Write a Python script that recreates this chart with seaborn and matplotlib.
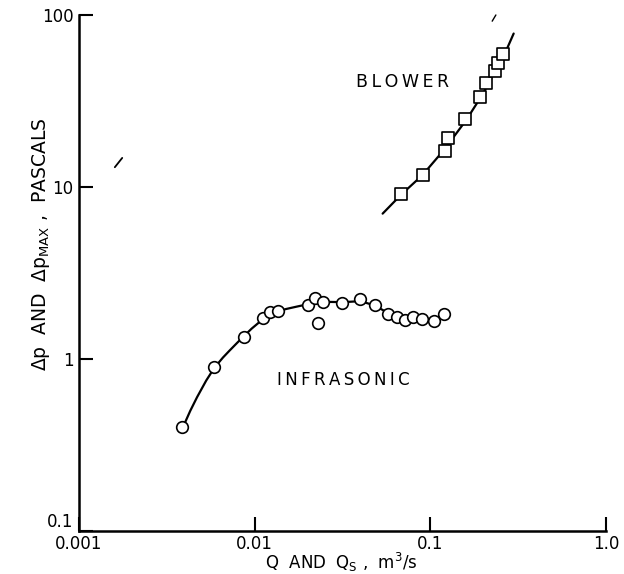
import matplotlib
matplotlib.use("Agg")
import matplotlib.pyplot as plt
import seaborn as sns
import pandas as pd

# Infrasonic data points (Q, m^3/s ; dp_max, Pa)
infra_q = [0.00388, 0.00587, 0.00871, 0.0111, 0.0122, 0.0135, 0.0200, 0.0220,
           0.0230, 0.0245, 0.0314, 0.0397, 0.0484, 0.0572, 0.0643, 0.0721,
           0.0800, 0.0898, 0.1054, 0.120]
infra_p = [0.404, 0.895, 1.35, 1.74, 1.87, 1.91, 2.06, 2.25,
           1.63, 2.15, 2.11, 2.22, 2.06, 1.82, 1.75, 1.69,
           1.76, 1.71, 1.66, 1.83]

# Infrasonic fitted curve
infra_curve_q = [0.0039, 0.0043, 0.0047, 0.0053, 0.0059, 0.0066, 0.0072, 0.0080,
                 0.0087, 0.0096, 0.0105, 0.0115, 0.0125, 0.0137, 0.015, 0.0175,
                 0.020, 0.025, 0.032, 0.040, 0.048, 0.057, 0.065, 0.075, 0.090,
                 0.105, 0.120]
infra_curve_p = [0.40, 0.50, 0.60, 0.75, 0.89, 1.02, 1.12, 1.25,
                 1.36, 1.50, 1.62, 1.73, 1.82, 1.89, 1.95, 2.02,
                 2.08, 2.15, 2.14, 2.17, 2.05, 1.86, 1.76, 1.72, 1.72,
                 1.70, 1.82]

# Blower data points (Qs, m^3/s ; dp, Pa)
blower_q = [0.0681, 0.0904, 0.1218, 0.1262, 0.1583, 0.192, 0.2077, 0.2337, 0.2441, 0.2606]
blower_p = [9.07, 11.7, 16.2, 19.2, 24.8, 33.2, 40.1, 47.3, 52.4, 59.3]

# Blower fitted curve
blower_curve_q = [0.0535, 0.068, 0.090, 0.120, 0.160, 0.200, 0.240, 0.270, 0.298]
blower_curve_p = [7.0, 9.0, 11.7, 16.5, 24.5, 35.0, 50.0, 62.0, 78.0]

x_ticks = [0.001, 0.01, 0.1, 1.0]
x_tick_labels = ["0.001", "0.01", "0.1", "1.0"]
y_ticks = [0.1, 1, 10, 100]
y_tick_labels = ["0.1", "1", "10", "100"]

df_inf = pd.DataFrame({"q": infra_q, "p": infra_p})
df_inf_c = pd.DataFrame({"q": infra_curve_q, "p": infra_curve_p})
df_bl = pd.DataFrame({"q": blower_q, "p": blower_p})
df_bl_c = pd.DataFrame({"q": blower_curve_q, "p": blower_curve_p})

sns.set_style("ticks")
plt.rcParams["font.family"] = ["DejaVu Sans"]
plt.rcParams["text.color"] = "black"
plt.rcParams["axes.labelcolor"] = "black"

fig = plt.figure(figsize=(6.24, 5.74), dpi=100)
ax = fig.add_axes([0.1266, 0.0749, 0.8446, 0.8990])

sns.lineplot(data=df_inf_c, x="q", y="p", ax=ax, color="black", linewidth=1.6,
             sort=False, estimator=None)
sns.lineplot(data=df_bl_c, x="q", y="p", ax=ax, color="black", linewidth=1.6,
             sort=False, estimator=None)
sns.scatterplot(data=df_inf, x="q", y="p", ax=ax, marker="o", s=70,
                facecolor="white", edgecolor="black", linewidth=1.2, zorder=3)
sns.scatterplot(data=df_bl, x="q", y="p", ax=ax, marker="s", s=70,
                facecolor="white", edgecolor="black", linewidth=1.2, zorder=3)

ax.set_xscale("log")
ax.set_yscale("log")
ax.set_xlim(0.001, 1.0)
ax.set_ylim(0.1, 100)
ax.set_xticks(x_ticks)
ax.set_xticklabels(x_tick_labels)
ax.set_yticks(y_ticks)
ax.set_yticklabels(y_tick_labels)
ax.minorticks_off()
ax.tick_params(axis="both", which="major", direction="in", length=10, width=1.5,
               labelsize=12, colors="black")
ax.tick_params(axis="x", pad=3)
ax.tick_params(axis="y", pad=4)
ax.get_yticklabels()[0].set_verticalalignment("bottom")
for s in ["top", "right"]:
    ax.spines[s].set_visible(False)
for s in ["left", "bottom"]:
    ax.spines[s].set_linewidth(1.8)
    ax.spines[s].set_color("black")

ax.set_xlabel(r"Q  AND  Q$_\mathrm{S}$ ,  m$^3$/s", fontsize=12)
ax.set_ylabel(r"$\Delta$p  AND  $\Delta$p$_\mathrm{MAX}$ ,  PASCALS", fontsize=13.5)
ax.xaxis.set_label_coords(0.497, -0.038)
ax.yaxis.set_label_coords(-0.052, 0.556)

ts = "\u2009"
ax.text(0.0319, 0.755, ts.join("INFRASONIC"), fontsize=12, ha="center", va="center")
ax.text(0.0693, 40.7, ts.join("BLOWER"), fontsize=12.5, ha="center", va="center")

# small stray pen marks visible on the original sheet
ax.plot([0.068, 0.082], [0.705, 0.723], transform=ax.transAxes, color="black",
        linewidth=1.3, clip_on=False)
ax.plot([0.784, 0.791], [0.988, 1.0], transform=ax.transAxes, color="black",
        linewidth=1.0, clip_on=False)

fig.savefig("out.png", dpi=100)
